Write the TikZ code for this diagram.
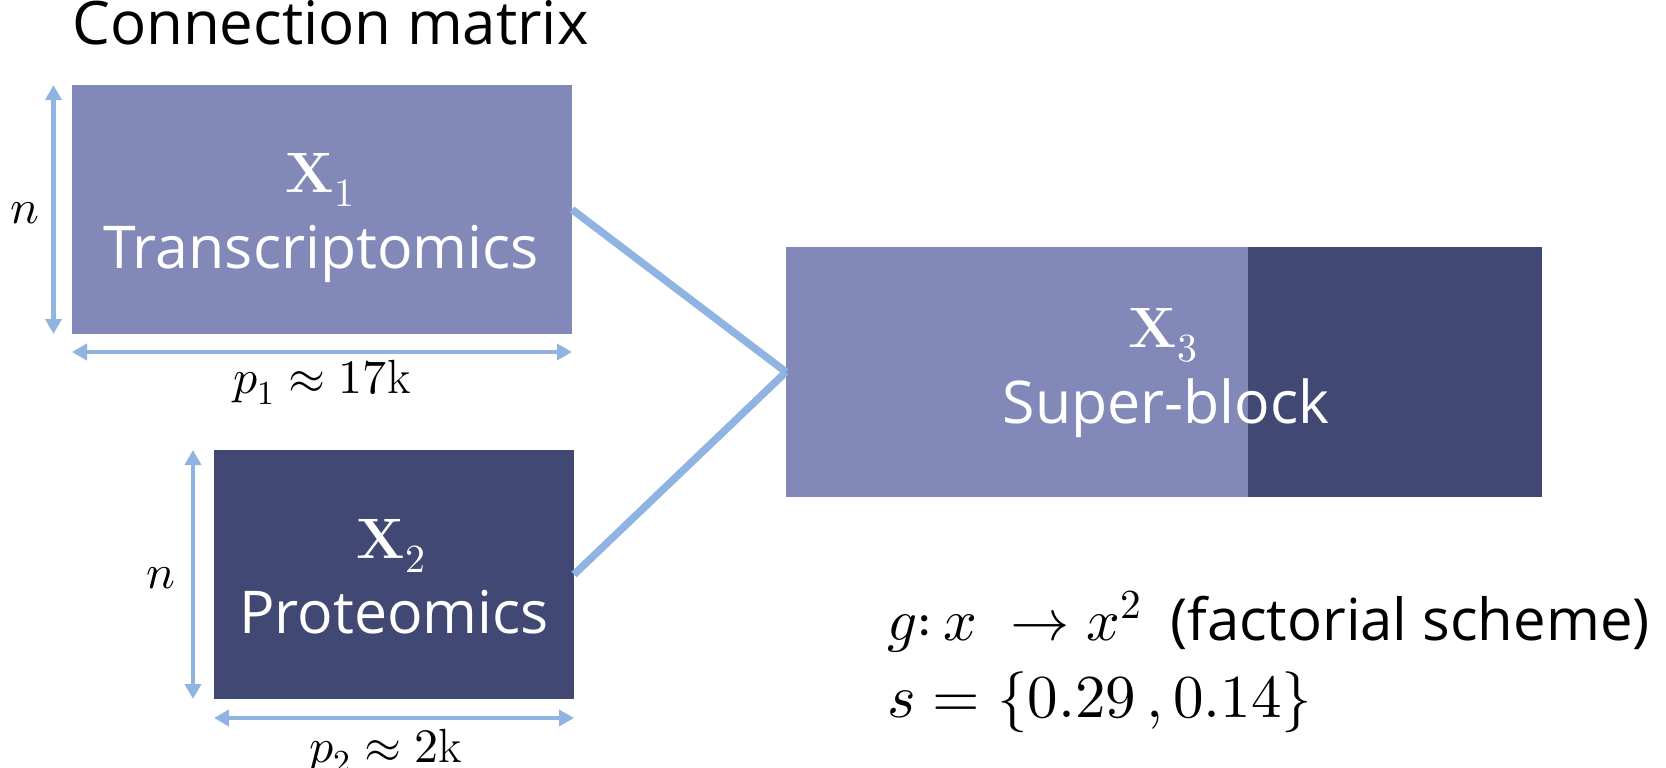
\documentclass[tikz,border=0pt]{standalone}
\usepackage{fontspec}
\usepackage{unicode-math}
\setmathfont{Latin Modern Math}
\newfontfamily\labfont{Open Sans}
\usetikzlibrary{arrows.meta}
\definecolor{boxlight}{RGB}{130,137,184}
\definecolor{boxdark}{RGB}{66,72,116}
\definecolor{linkblue}{RGB}{143,180,226}
\begin{document}
\begin{tikzpicture}[x=1pt,y=-1pt,
  blockbox/.style={draw=none, inner sep=0pt, outer sep=0pt, anchor=north west},
  lab/.style={text=white, font=\labfont\fontsize{59}{62}\selectfont, inner sep=0pt, anchor=base},
  mlab/.style={text=white, font=\fontsize{57}{60}\selectfont, inner sep=0pt, anchor=base},
  mtext/.style={text=black, font=\fontsize{48}{50}\selectfont, inner sep=0pt, anchor=base},
  dimarrow/.style={draw=linkblue, line width=4.5pt, {Triangle[width=16pt,length=15pt]}-{Triangle[width=16pt,length=15pt]}},
  link/.style={draw=linkblue, line width=7.5pt}]
\useasboundingbox (0,0) rectangle (1666,768);

% title
\node[text=black, font=\labfont\fontsize{60}{62}\selectfont, inner sep=0pt, anchor=base west] (title) at (72,45) {Connection matrix};

% X1
\node[blockbox, fill=boxlight, minimum width=500pt, minimum height=249pt] (x1) at (72,85) {};
\node[mlab] (x1m) at (320,192) {$\mathbf{X}_1$};
\node[lab] (x1t) at (321,268) {Transcriptomics};
\draw[dimarrow] ([xshift=-18.5pt]x1.north west) -- ([xshift=-18.5pt]x1.south west);
\draw[dimarrow] ([yshift=-18pt]x1.south west) -- ([yshift=-18pt]x1.south east);
\node[mtext] (n1) at (25,223) {$n$};
\node[mtext] (p1) at (322,393) {$p_1 \approx 17\mathrm{k}$};

% X2
\node[blockbox, fill=boxdark, minimum width=360pt, minimum height=249pt] (x2) at (214,450) {};
\node[mlab] (x2m) at (391,558) {$\mathbf{X}_2$};
\node[lab] (x2t) at (394,633) {Proteomics};
\draw[dimarrow] ([xshift=-21pt]x2.north west) -- ([xshift=-21pt]x2.south west);
\draw[dimarrow] ([yshift=-19pt]x2.south west) -- ([yshift=-19pt]x2.south east);
\node[mtext] (n2) at (161,588) {$n$};
\node[mtext] (p2) at (386,762) {$p_2 \approx 2\mathrm{k}$};

% X3
\node[blockbox, fill=boxlight, minimum width=756pt, minimum height=250pt] (x3) at (786,247) {};
\node[blockbox, fill=boxdark, minimum width=294pt, minimum height=250pt] (x3d) at (1248,247) {};
\node[mlab] (x3m) at (1163,347) {$\mathbf{X}_3$};
\node[lab] (x3t) at (1166,423) {Super-block};

% connectors
\draw[link] (x1.east) -- (x3.west);
\draw[link] (x2.east) -- (x3.west);

% formulas
\node[text=black, font=\fontsize{59}{60}\selectfont, inner sep=0pt, anchor=base west] (gmap) at (887,640) {$g{:}\,x\ \rightarrow x^{2}$};
\node[text=black, font=\labfont\fontsize{58}{60}\selectfont, inner sep=0pt, anchor=base west] (gtxt) at (1170,640) {(factorial scheme)};
\node[text=black, font=\fontsize{61}{62}\selectfont, inner sep=0pt, anchor=base west] (sval) at (887,717) {$s=\{0.29\,,0.14\}$};
\end{tikzpicture}
\end{document}
